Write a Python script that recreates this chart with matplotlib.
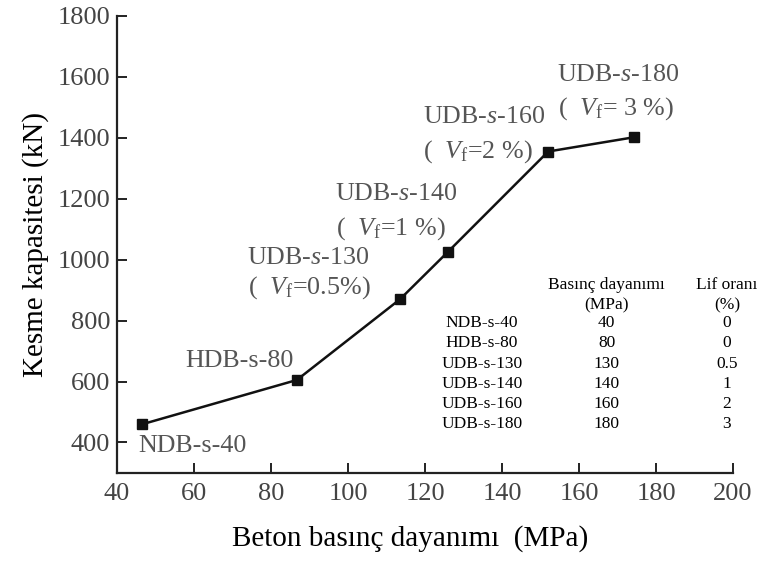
import matplotlib
matplotlib.use("Agg")
import matplotlib.pyplot as plt

plt.rcParams['font.family'] = ['Liberation Serif', 'DejaVu Serif']
plt.rcParams['mathtext.fontset'] = 'custom'
plt.rcParams['mathtext.rm'] = 'Liberation Serif'
plt.rcParams['mathtext.it'] = 'Liberation Serif:italic'

# Beam test results: concrete strength vs. shear capacity
strength = [46.6, 86.7, 113.5, 125.9, 152.0, 174.4]
capacity = [460, 605, 870, 1025, 1355, 1402]

# Point labels (name line, fibre ratio line)
names = ['NDB-s-40', 'HDB-s-80', 'UDB-$s$-130', 'UDB-$s$-140', 'UDB-$s$-160', 'UDB-$s$-180']
fibre_labels = [None, None, '(  $V_\\mathrm{f}$=0.5%)', '(  $V_\\mathrm{f}$=1 %)',
                '(  $V_\\mathrm{f}$=2 %)', '(  $V_\\mathrm{f}$= 3 %)']

# Summary table
specimens = ['NDB-s-40', 'HDB-s-80', 'UDB-s-130', 'UDB-s-140', 'UDB-s-160', 'UDB-s-180']
nominal_strength = ['40', '80', '130', '140', '160', '180']
fibre_ratio = ['0', '0', '0.5', '1', '2', '3']

# label anchor positions (data coords, left aligned except HDB)
name_pos = [(45.5, 387), (71.7, 667), (73.8, 1006), (96.6, 1216), (119.5, 1469), (154.3, 1605)]
fibre_pos = [None, None, (74.0, 908), (97.0, 1101), (119.5, 1354), (154.5, 1496)]

fig = plt.figure(figsize=(7.57, 5.63), dpi=100)
ax = fig.add_axes([0.1546, 0.160, 0.8137, 0.8117])

ax.plot(strength, capacity, color='#111111', lw=1.8, marker='s', ms=7,
        mec='#111111', mfc='#111111')

ax.set_xlim(40, 200)
ax.set_ylim(300, 1800)
ax.set_xticks(range(40, 201, 20))
ax.set_yticks(range(400, 1801, 200))

for side in ['top', 'right']:
    ax.spines[side].set_visible(False)
for side in ['left', 'bottom']:
    ax.spines[side].set_linewidth(1.6)
    ax.spines[side].set_color('#222222')

ax.tick_params(direction='in', length=7, width=1.4, labelsize=19,
               labelcolor='#444444', color='#222222', pad=5)
ax.tick_params(axis='x', pad=7)

ax.set_xlabel('Beton basınç dayanımı  (MPa)', fontsize=21)
ax.xaxis.set_label_coords(0.476, -0.115)
ax.set_ylabel('Kesme kapasitesi (kN)', fontsize=21, labelpad=6)

gray = '#555555'
for i, name in enumerate(names):
    x, y = name_pos[i]
    ha = 'center' if i == 1 else 'left'
    ax.text(x, y, name, fontsize=18.7, color=gray, ha=ha, va='center')
    if fibre_labels[i]:
        fx, fy = fibre_pos[i]
        ax.text(fx, fy, fibre_labels[i], fontsize=18.7, color=gray, ha='left', va='center')

# table inside the axes
col_x = [0.5925, 0.795, 0.990]
ax.text(col_x[1], 0.411, 'Basınç dayanımı', transform=ax.transAxes, fontsize=12.5,
        ha='center', va='center')
ax.text(col_x[1], 0.3656, '(MPa)', transform=ax.transAxes, fontsize=12.5,
        ha='center', va='center')
ax.text(col_x[2], 0.411, 'Lif oranı', transform=ax.transAxes, fontsize=12.5,
        ha='center', va='center', clip_on=False)
ax.text(col_x[2], 0.3656, '(%)', transform=ax.transAxes, fontsize=12.5,
        ha='center', va='center', clip_on=False)

row_y0 = 0.3276
row_step = 0.0442
for i in range(len(specimens)):
    ry = row_y0 - i * row_step
    ax.text(col_x[0], ry, specimens[i], transform=ax.transAxes, fontsize=12.5,
            ha='center', va='center')
    ax.text(col_x[1], ry, nominal_strength[i], transform=ax.transAxes, fontsize=12.5,
            ha='center', va='center')
    ax.text(col_x[2], ry, fibre_ratio[i], transform=ax.transAxes, fontsize=12.5,
            ha='center', va='center', clip_on=False)

fig.savefig('out.png', dpi=100)
